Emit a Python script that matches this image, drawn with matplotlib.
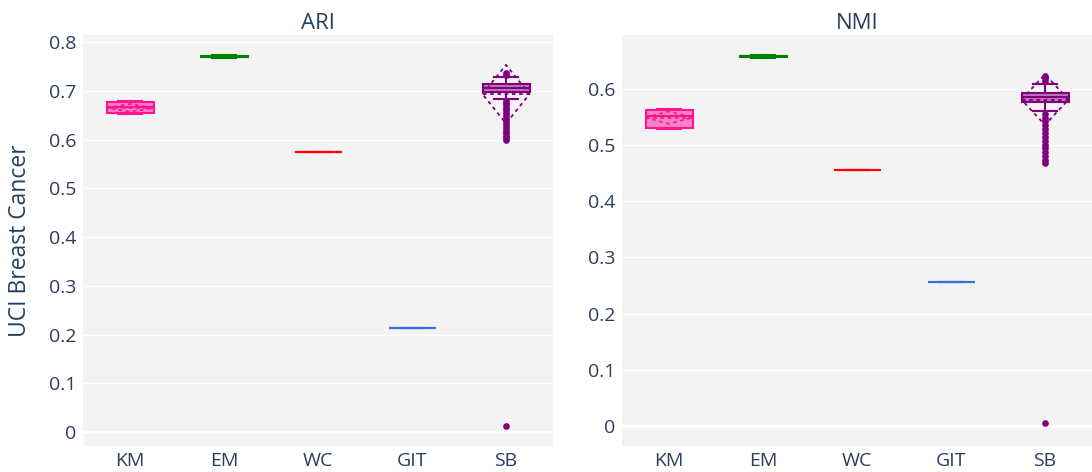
import matplotlib
matplotlib.use("Agg")
import matplotlib.pyplot as plt
import numpy as np

plt.rcParams["font.family"] = ["Open Sans", "DejaVu Sans"]

methods = ["KM", "EM", "WC", "GIT", "SB"]
colors = ["#FF1493", "#008000", "#FF0000", "#4169E1", "#800080"]

# ARI box statistics
ari_q1 = [0.655, 0.7685, 0.575, 0.214, 0.698]
ari_med = [0.667, 0.770, 0.575, 0.214, 0.706]
ari_q3 = [0.677, 0.7715, 0.575, 0.214, 0.714]
ari_lo = [0.653, 0.767, 0.575, 0.214, 0.683]
ari_hi = [0.679, 0.773, 0.575, 0.214, 0.728]
ari_mean = [0.665, 0.770, 0.575, 0.214, 0.693]
ari_sd = [0.008, 0.0015, 0.0, 0.0, 0.060]
ari_out = [[], [], [], [],
           [0.012, 0.598, 0.603, 0.608, 0.613, 0.618, 0.624, 0.630, 0.636,
            0.642, 0.648, 0.654, 0.660, 0.665, 0.670, 0.675, 0.679,
            0.733, 0.737]]

# NMI box statistics
nmi_q1 = [0.530, 0.6565, 0.456, 0.257, 0.576]
nmi_med = [0.551, 0.658, 0.456, 0.257, 0.585]
nmi_q3 = [0.5626, 0.6595, 0.456, 0.257, 0.592]
nmi_lo = [0.528, 0.655, 0.456, 0.257, 0.560]
nmi_hi = [0.564, 0.661, 0.456, 0.257, 0.608]
nmi_mean = [0.549, 0.658, 0.456, 0.257, 0.581]
nmi_sd = [0.011, 0.001, 0.0, 0.0, 0.045]
nmi_out = [[], [], [], [],
           [0.005, 0.468, 0.474, 0.480, 0.487, 0.494, 0.501, 0.508, 0.515,
            0.522, 0.529, 0.536, 0.543, 0.549, 0.555,
            0.614, 0.619, 0.623]]

titles = ["ARI", "NMI"]
ylabel = "UCI Breast Cancer"
ari_ticks = [0, 0.1, 0.2, 0.3, 0.4, 0.5, 0.6, 0.7, 0.8]
nmi_ticks = [0, 0.1, 0.2, 0.3, 0.4, 0.5, 0.6]

FONT = "#2a3f5f"
BG = "#f3f3f3"

fig = plt.figure(figsize=(10.92, 4.72), dpi=100)
ax1 = fig.add_axes([83/1092, 26/472, 470/1092, 411/472])
ax2 = fig.add_axes([622/1092, 26/472, 470/1092, 411/472])

def fmt(v):
    return "0" if v == 0 else f"{v:g}"

def draw(ax, q1, med, q3, lo, hi, mean, sd, outs, ticks, ylim, title):
    ax.set_facecolor(BG)
    for s in ax.spines.values():
        s.set_visible(False)
    ax.set_axisbelow(True)
    ax.yaxis.grid(True, color="white", linewidth=1.0)
    ax.axhline(0, color="white", linewidth=2, zorder=0.5)
    pos = list(range(len(methods)))
    stats = []
    for i in pos:
        stats.append(dict(med=med[i], q1=q1[i], q3=q3[i], whislo=lo[i],
                          whishi=hi[i], fliers=outs[i], mean=mean[i]))
    bp = ax.bxp(stats, positions=pos, widths=0.5, capwidths=0.25,
                patch_artist=True, showmeans=False, manage_ticks=False)
    for i, c in enumerate(colors):
        bp["boxes"][i].set(facecolor=matplotlib.colors.to_rgba(c, 0.5),
                           edgecolor=c, linewidth=1.5)
        bp["medians"][i].set(color=c, linewidth=1.5)
        for w in bp["whiskers"][2*i:2*i+2]:
            w.set(color=c, linewidth=1.5)
        for cp in bp["caps"][2*i:2*i+2]:
            cp.set(color=c, linewidth=1.5)
        bp["fliers"][i].set(marker="o", markerfacecolor=c, markeredgecolor=c,
                            markersize=3.8, linestyle="none")
        # mean +- sd diamond (dashed)
        if sd[i] > 0:
            xs = [i - 0.25, i, i + 0.25, i, i - 0.25]
            ys = [mean[i], mean[i] + sd[i], mean[i], mean[i] - sd[i], mean[i]]
            ax.plot(xs, ys, color=c, linestyle=(0, (2, 2)), linewidth=1.3, zorder=3)
        ax.plot([i - 0.25, i + 0.25], [mean[i], mean[i]], color=c,
                linestyle=(0, (2, 2)), linewidth=1.3, zorder=3)
    ax.set_xlim(-0.5, len(methods) - 0.5)
    ax.set_ylim(*ylim)
    ax.set_xticks(pos)
    ax.set_xticklabels(methods)
    ax.set_yticks(ticks)
    ax.set_yticklabels([fmt(t) for t in ticks])
    ax.tick_params(axis="both", length=0, labelsize=14, colors=FONT, pad=4)
    ax.tick_params(axis="y", pad=5)
    ax.set_title(title, fontsize=16, color=FONT, pad=4)

draw(ax1, ari_q1, ari_med, ari_q3, ari_lo, ari_hi, ari_mean, ari_sd, ari_out,
     ari_ticks, (-0.0287, 0.8144), titles[0])
draw(ax2, nmi_q1, nmi_med, nmi_q3, nmi_lo, nmi_hi, nmi_mean, nmi_sd, nmi_out,
     nmi_ticks, (-0.0356, 0.696), titles[1])
ax1.set_ylabel(ylabel, fontsize=16.5, color=FONT, labelpad=12)

fig.savefig("out.png", dpi=100)
